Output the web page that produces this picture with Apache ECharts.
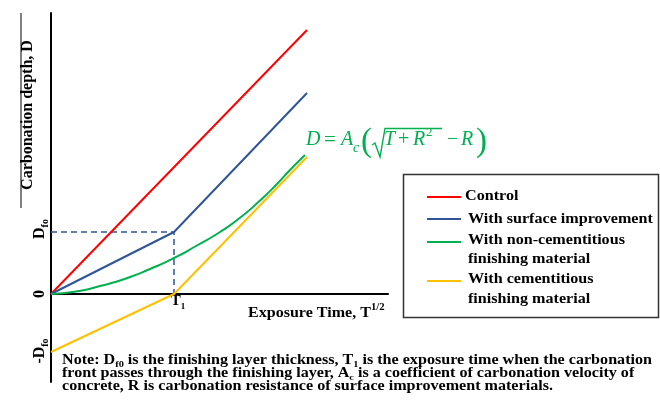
<!DOCTYPE html>
<html><head><meta charset="utf-8">
<script src="https://cdn.jsdelivr.net/npm/echarts@6/dist/echarts.min.js"></script>
<style>html,body{margin:0;padding:0;background:#fff}#c{width:660px;height:407px}</style>
</head><body><div id="c"></div>
<script>
// ---- data (arbitrary units) ----
const seriesNames = ['Control', 'With surface improvement', 'With non-cementitious\nfinishing material', 'With cementitious\nfinishing material'];
const seriesColors = ['#ff0000', '#2f5597', '#00b050', '#ffc000'];
const controlData = [[0, 0], [256, 264]];
const surfaceData = [[0, 0], [123, 62], [256, 201]];
const nonCementitiousData = [[0, 0], [25, 2.5], [49, 8], [75, 15.5], [99, 25], [123, 36], [145, 48], [169, 62], [190, 77], [209, 93.5], [225, 109], [239, 124], [254, 139]];
const cementitiousData = [[0, -58], [123, 0], [256, 137]];
const T1 = 123, Dfo = 62, negDfo = -58;
const guideData = [[0, Dfo], [T1, Dfo], [T1, 0]];
const xRange = [0, 337];
const yRange = [-88, 281];
const yTickLabels = [[Dfo, 'D{s|fo}'], [0, '0'], [negDfo, '-D{s|fo}']];
const xTickLabels = [[T1, 'T{s|1}']];
const noteLines = [
  'Note: D{s|f0} is the finishing layer thickness, T{s|1} is the exposure time when the carbonation',
  'front passes through the finishing layer, A{s|c} is a coefficient of carbonation velocity of',
  'concrete, R is carbonation resistance of surface improvement materials.'
];

const SERIF = '"Liberation Serif","Times New Roman",serif';
const chart = echarts.init(document.getElementById('c'), null, {renderer: 'canvas'});
const allData = [controlData, surfaceData, nonCementitiousData, cementitiousData];

const series = allData.map((d, i) => ({
  type: 'line', name: seriesNames[i], data: d, showSymbol: false,
  smooth: i === 2 ? 0.6 : false,
  lineStyle: {color: seriesColors[i], width: 2}, z: 3 + i, animation: false
}));
series.push({
  type: 'line', data: guideData, showSymbol: false,
  lineStyle: {color: seriesColors[1], width: 1.5, type: [6, 4]}, z: 2, animation: false
});

chart.setOption({
  animation: false,
  grid: {left: 51, top: 13, width: 337, height: 369},
  xAxis: {type: 'value', min: xRange[0], max: xRange[1],
    axisLine: {onZero: true, lineStyle: {color: '#000', width: 2}},
    axisTick: {show: false}, axisLabel: {show: false}, splitLine: {show: false}},
  yAxis: {type: 'value', min: yRange[0], max: yRange[1],
    axisLine: {show: true, lineStyle: {color: '#000', width: 2}},
    axisTick: {show: false}, axisLabel: {show: false}, splitLine: {show: false}},
  series: series
});

const g = [];
const subRich = (size, lh) => ({font: 'bold ' + size + 'px ' + SERIF, verticalAlign: 'bottom', lineHeight: lh});
// y tick labels (rotated)
const yLabelShift = [-3, 0, -1];
yTickLabels.forEach(([v, t], i) => {
  const p = chart.convertToPixel({gridIndex: 0}, [0, v]);
  g.push({type: 'text', x: 40, y: p[1] + yLabelShift[i], rotation: Math.PI / 2,
    style: {text: t, font: 'bold 16px ' + SERIF, fill: '#000', align: 'center', verticalAlign: 'middle', lineHeight: 16,
      rich: {s: subRich(10, 21)}}});
});
xTickLabels.forEach(([v, t]) => {
  const p = chart.convertToPixel({gridIndex: 0}, [v, 0]);
  g.push({type: 'text', x: p[0] + 4, y: 301,
    style: {text: t, font: 'bold 15px ' + SERIF, fill: '#000', align: 'center', verticalAlign: 'middle', lineHeight: 15,
      rich: {s: subRich(9, 20)}}});
});
// axis titles
g.push({type: 'text', x: 28, y: 115, rotation: Math.PI / 2,
  style: {text: 'Carbonation depth, D', font: 'bold 16px ' + SERIF, fill: '#000', align: 'center', verticalAlign: 'middle'}});
g.push({type: 'line', shape: {x1: 21, y1: 13, x2: 21, y2: 208}, style: {stroke: '#000', lineWidth: 1}});
g.push({type: 'text', x: 248, y: 313, scaleX: 1.07,
  style: {text: 'Exposure Time, T{p|1/2}', font: 'bold 15px ' + SERIF, fill: '#000', align: 'left', verticalAlign: 'middle', lineHeight: 15,
    rich: {p: {font: 'bold 10px ' + SERIF, verticalAlign: 'top', lineHeight: 21}}}});

// legend box
g.push({type: 'rect', shape: {x: 403.5, y: 174.5, width: 255, height: 143}, style: {fill: '#fff', stroke: '#333', lineWidth: 1.5}, z: 10});
const legendLineY = [197, 219, 242, 281];
const legendTextY = [196, 219, 240, 279.5];
const legendTextX = [465, 468, 468, 468];
seriesNames.forEach((n, i) => {
  g.push({type: 'line', shape: {x1: 427, y1: legendLineY[i], x2: 461, y2: legendLineY[i]}, style: {stroke: seriesColors[i], lineWidth: 2}, z: 11});
  g.push({type: 'text', x: legendTextX[i], y: legendTextY[i] - 9.75, z: 11, scaleX: 1.075,
    style: {text: n, font: 'bold 15px ' + SERIF, fill: '#000', align: 'left', verticalAlign: 'top', lineHeight: 19.5}});
});

// formula
const GREEN = '#00b050';
const fpieces = [
  ['D', 306, 140, 'italic 20px'], ['=', 324, 140, '21px'], ['A', 341, 140, 'italic 20px'], ['c', 353, 148, 'italic 14px'],
  ['(', 361, 142, '33px'], ['T', 384, 140, 'italic 20px'], ['+', 398, 140, '20px'], ['R', 413, 140, 'italic 20px'],
  ['2', 426, 133, '13px'], ['\u2212', 447, 140, '20px'], ['R', 461, 140, 'italic 20px'], [')', 476, 142, '33px']
];
fpieces.forEach(([t, x, y, f]) => {
  g.push({type: 'text', x: x, y: y, style: {text: t, font: f + ' ' + SERIF, fill: GREEN, align: 'left', verticalAlign: 'middle'}});
});
g.push({type: 'polyline', shape: {points: [[372, 145], [375, 143], [380, 157], [385, 128.5], [442, 128.5]]}, style: {stroke: GREEN, lineWidth: 1.4, fill: null}});

// note
const noteY = [360, 373, 386];
noteLines.forEach((t, i) => {
  g.push({type: 'text', x: 62, y: noteY[i], scaleX: 1.15,
    style: {text: t, font: 'bold 14px ' + SERIF, fill: '#000', align: 'left', verticalAlign: 'middle', lineHeight: 13,
      rich: {s: subRich(9, 19)}}});
});

chart.setOption({graphic: g});
</script></body></html>
